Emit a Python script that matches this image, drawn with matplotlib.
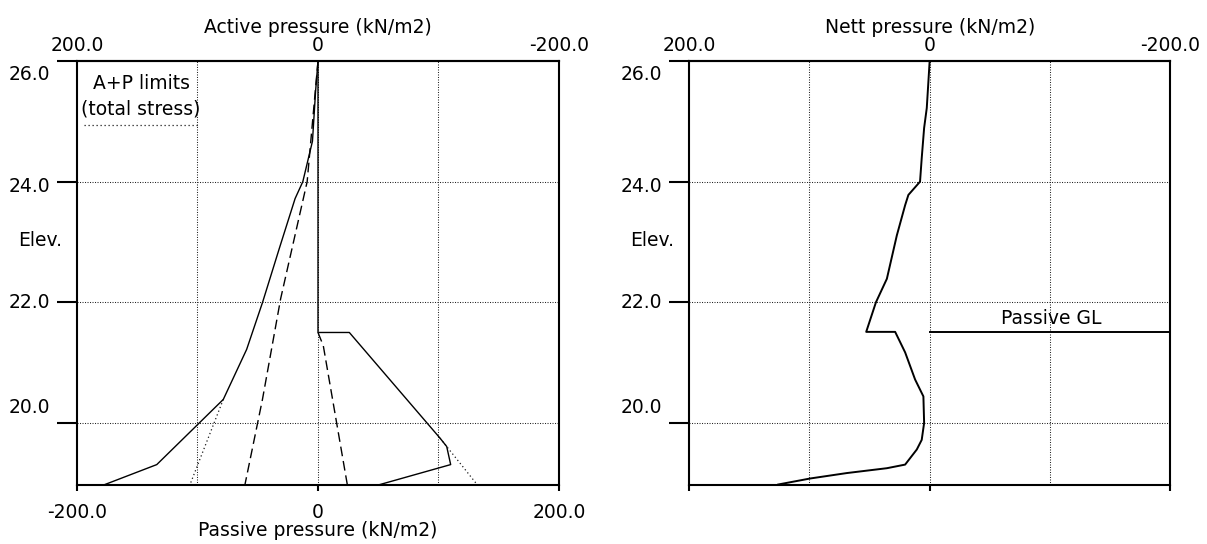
import matplotlib
matplotlib.use('Agg')
import matplotlib.pyplot as plt

# ---------------- data ----------------
elev_ticks = [26.0, 24.0, 22.0, 20.0]
elev_labels = ['26.0', '24.0', '22.0', '20.0']
pressure_ticks = [-200, 0, 200]
bottom_labels = ['-200.0', '0', '200.0']
top_ticks = [200, 0, -200]
top_labels = ['200.0', '0', '-200.0']
grid_x = [-100, 0, 100]
grid_y = [24.0, 22.0, 20.0]

# active side (plotted to the left, active axis on top)
active_elev = [26.0, 25.5, 24.67, 24.0, 23.72, 22.9, 22.0, 21.22, 20.39, 19.31, 18.98]
active_p = [0.0, 2.0, 4.6, 12.6, 19.0, 32.0, 46.0, 59.2, 78.6, 133.8, 176.8]
active_dash_elev = [26.0, 24.0, 22.06, 20.39, 18.98]
active_dash_p = [0.0, 9.0, 31.0, 46.1, 60.6]
active_limit_elev = [20.39, 18.98]
active_limit_p = [78.6, 106.2]

# passive side (plotted to the right, passive axis at bottom)
passive_elev = [26.0, 21.5, 21.5, 19.75, 19.61, 19.31, 18.98]
passive_p = [0.0, 0.0, 26.0, 101.2, 106.8, 110.1, 51.5]
passive_dash_elev = [21.5, 21.28, 18.98]
passive_dash_p = [0.0, 4.4, 24.3]
passive_limit_elev = [19.75, 18.98]
passive_limit_p = [101.2, 132.0]

# nett pressure
nett_elev = [26.0, 25.64, 25.22, 24.89, 24.39, 24.0, 23.78, 23.61, 23.11, 22.39, 22.0,
             21.51, 21.51, 21.17, 20.72, 20.44, 20.0, 19.72, 19.56, 19.31, 19.25,
             19.17, 19.08, 18.98]
nett_p = [0.0, 1.1, 2.4, 4.6, 6.6, 8.0, 17.7, 20.4, 27.3, 35.6, 44.7,
          52.8, 28.7, 20.4, 12.1, 5.2, 4.6, 6.6, 10.7, 20.4, 35.6,
          68.8, 99.3, 126.0]
passive_gl = 21.5
y_range = (18.98, 26.0)

# ---------------- figure ----------------
W, H = 1207, 544
plt.rcParams['font.family'] = ['DejaVu Sans']
FS = 13.5
fig = plt.figure(figsize=(W / 100, H / 100), dpi=100)

def px(v):
    return v * 0.72  # pixels -> points at 100 dpi

ax1 = fig.add_axes([77 / W, 1 - 484.5 / H, (559 - 77) / W, (484.5 - 61) / H])
ax2 = fig.add_axes([689.3 / W, 1 - 484.5 / H, (1170 - 689.3) / W, (484.5 - 61) / H])

grid_style = dict(color='0.15', lw=0.75, ls=(0, (1, 1.4)), zorder=1)
limit_style = dict(color='0.1', lw=0.9, ls=(0, (1, 2.2)), zorder=2)

for ax in (ax1, ax2):
    for s in ax.spines.values():
        s.set_linewidth(1.5)
        s.set_color('black')
    ax.set_ylim(*y_range)
    ax.set_yticks(elev_ticks)
    ax.set_yticklabels([''] * len(elev_ticks))
    ax.tick_params(axis='y', direction='out', length=px(20), width=1.5, left=True)
    ax.tick_params(axis='x', direction='out', length=px(6), width=1.5)
    for g in grid_x:
        ax.axvline(g, **grid_style)
    for g in grid_y:
        ax.axhline(g, **grid_style)
    # elevation labels (offset as in the original software), pixels, + = up
    offs = [-14, -5, 0, 15.5]
    for v, lab, o in zip(elev_ticks, elev_labels, offs):
        ax.annotate(lab, xy=(0, v), xycoords=('axes fraction', 'data'),
                    xytext=(px(-27), px(o)), textcoords='offset points',
                    ha='right', va='center', fontsize=FS)
    ax.annotate('Elev.', xy=(0, 0.575), xycoords='axes fraction',
                xytext=(px(-37), 0), textcoords='offset points',
                ha='center', va='center', fontsize=FS)

# ---- left panel ----
ax1.set_xlim(-200, 200)
ax1.set_xticks(pressure_ticks)
ax1.set_xticklabels(bottom_labels, fontsize=FS)
ax1.tick_params(axis='x', pad=px(13))
ax1.set_xlabel('Passive pressure (kN/m2)', fontsize=FS, labelpad=px(-2))

sec1 = ax1.secondary_xaxis('top', functions=(lambda x: -x, lambda x: -x))
sec1.set_xticks(top_ticks)
sec1.set_xticklabels(top_labels, fontsize=FS)
sec1.tick_params(axis='x', length=0, pad=px(6))
sec1.spines['top'].set_linewidth(1.5)
sec1.set_xlabel('Active pressure (kN/m2)', fontsize=FS, labelpad=px(3))

ax1.plot([-p for p in active_p], active_elev, color='black', lw=1.0, zorder=3)
ax1.plot([-p for p in active_dash_p], active_dash_elev, color='black', lw=1.0,
         ls=(0, (7, 3.5)), zorder=3)
ax1.plot([-p for p in active_limit_p], active_limit_elev, **limit_style)
ax1.plot(passive_p, passive_elev, color='black', lw=1.0, zorder=3)
ax1.plot(passive_dash_p, passive_dash_elev, color='black', lw=1.0,
         ls=(0, (7, 3.5)), zorder=3)
ax1.plot(passive_limit_p, passive_limit_elev, **limit_style)

ax1.text(0.133, 0.946, 'A+P limits', transform=ax1.transAxes,
         ha='center', va='center', fontsize=FS)
ax1.text(0.133, 0.886, '(total stress)', transform=ax1.transAxes,
         ha='center', va='center', fontsize=FS)
ax1.plot([0.0145, 0.253], [0.848, 0.848], transform=ax1.transAxes, **limit_style)

# ---- right panel ----
ax2.set_xlim(200, -200)
ax2.set_xticks(top_ticks)
ax2.set_xticklabels([''] * 3)
sec2 = ax2.secondary_xaxis('top')
sec2.set_xticks(top_ticks)
sec2.set_xticklabels(top_labels, fontsize=FS)
sec2.tick_params(axis='x', length=0, pad=px(6))
sec2.spines['top'].set_linewidth(1.5)
sec2.set_xlabel('Nett pressure (kN/m2)', fontsize=FS, labelpad=px(3))

ax2.plot(nett_p, nett_elev, color='black', lw=1.4, zorder=3)
ax2.plot([0, -200], [passive_gl, passive_gl], color='black', lw=1.4, zorder=3)
ax2.annotate('Passive GL', xy=(-101, passive_gl), xycoords='data',
             xytext=(0, px(4)), textcoords='offset points',
             ha='center', va='bottom', fontsize=FS)

fig.savefig('out.png', dpi=100)
